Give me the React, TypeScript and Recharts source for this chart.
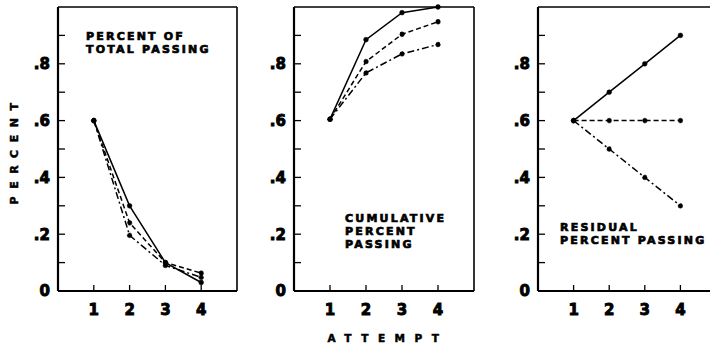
import React from 'react';
import { LineChart, Line, XAxis, YAxis, ReferenceLine } from 'recharts';

const attempts = [1, 2, 3, 4];
const xTicks = [1, 2, 3, 4];
const yTicks = [0, 0.1, 0.2, 0.3, 0.4, 0.5, 0.6, 0.7, 0.8, 0.9];

// Panel 1: percent of total passing
const totalSolid = [0.6, 0.3, 0.1, 0.03];
const totalDashed = [0.6, 0.24, 0.1, 0.063];
const totalDashDot = [0.6, 0.196, 0.09, 0.048];

// Panel 2: cumulative percent passing
const cumSolid = [0.605, 0.885, 0.98, 1.0];
const cumDashed = [0.605, 0.808, 0.904, 0.948];
const cumDashDot = [0.605, 0.768, 0.835, 0.868];

// Panel 3: residual percent passing
const resSolid = [0.6, 0.7, 0.8, 0.9];
const resDashed = [0.6, 0.6, 0.6, 0.6];
const resDashDot = [0.6, 0.5, 0.4, 0.3];

const build = (a: number[], b: number[], c: number[]) =>
  attempts.map((x, i) => ({ x, solid: a[i], dashed: b[i], dashdot: c[i] }));

const FONT = '"DejaVu Sans", "Liberation Sans", Arial, sans-serif';

const fmtY = (v: number) => {
  const k = Math.round(v * 10);
  if (k === 0) return '0';
  return k % 2 === 0 ? '.' + k : '';
};

const tickStyle = { fontSize: 15, fontWeight: 'bold', fill: '#000', stroke: '#000', strokeWidth: 0.9, fontFamily: FONT } as any;
const annStyle = { fontSize: 11, fontWeight: 'bold', fill: '#000', stroke: '#000', strokeWidth: 0.7, fontFamily: FONT, letterSpacing: 2.2 } as any;

const dot = { r: 2.4, fill: '#000', stroke: '#000', strokeWidth: 0.5 };

interface PanelProps {
  data: any[];
  left: number;
  plotWidth: number;
  children?: React.ReactNode;
  xLabel?: boolean;
  yLabel?: boolean;
}

function Panel({ data, left, plotWidth, children, xLabel, yLabel }: PanelProps) {
  const width = 58 + plotWidth + 4;
  return (
    <div style={{ position: 'absolute', left, top: 0 }}>
      <LineChart width={width} height={349} data={data} margin={{ top: 7, right: 4, bottom: 28, left: 0 }}>
        <XAxis
          dataKey="x"
          type="number"
          domain={[0, 5]}
          ticks={xTicks}
          height={30}
          tickSize={-6}
          tickMargin={19}
          axisLine={{ stroke: '#000', strokeWidth: 2.2 }}
          tickLine={{ stroke: '#000', strokeWidth: 1.3 }}
          tick={tickStyle}
          interval={0}
          label={
            xLabel
              ? {
                  value: 'ATTEMPT',
                  position: 'bottom',
                  content: () => (
                    <text x={147 + 5} y={342} textAnchor="middle" style={{ fontSize: 10.5, fontWeight: 'bold', fontFamily: FONT, letterSpacing: 9.5 }} fill="#000" stroke="#000" strokeWidth={0.5}>
                      ATTEMPT
                    </text>
                  ),
                }
              : undefined
          }
        />
        <YAxis
          type="number"
          domain={[0, 1]}
          ticks={yTicks}
          width={58}
          tickSize={-7}
          tickMargin={15}
          axisLine={{ stroke: '#000', strokeWidth: 2.2 }}
          tickLine={{ stroke: '#000', strokeWidth: 1.3 }}
          tick={tickStyle}
          tickFormatter={fmtY}
          interval={0}
          label={
            yLabel
              ? {
                  value: 'PERCENT',
                  position: 'insideLeft',
                  content: () => (
                    <text transform="translate(18,154) rotate(-90)" x={4} y={0} textAnchor="middle" style={{ fontSize: 11, fontWeight: 'bold', fontFamily: FONT, letterSpacing: 7.5 }} fill="#000" stroke="#000" strokeWidth={0.5}>
                      PERCENT
                    </text>
                  ),
                }
              : undefined
          }
        />
        <ReferenceLine y={1} stroke="#000" strokeWidth={1.6} />
        <ReferenceLine x={5} stroke="#000" strokeWidth={1.6} />
        <Line dataKey="solid" stroke="#000" strokeWidth={1.5} dot={dot} isAnimationActive={false} />
        <Line dataKey="dashed" stroke="#000" strokeWidth={1.5} strokeDasharray="5 3" dot={dot} isAnimationActive={false} />
        <Line dataKey="dashdot" stroke="#000" strokeWidth={1.5} strokeDasharray="7 3 2 3" dot={dot} isAnimationActive={false} />
        {children}
      </LineChart>
    </div>
  );
}

export default function App() {
  return (
    <div style={{ position: 'fixed', left: 0, top: 0, width: 710, height: 349, overflow: 'hidden', background: '#fff' }}>
      <Panel data={build(totalSolid, totalDashed, totalDashDot)} left={0} plotWidth={179} yLabel>
        <text x={86} y={40} style={annStyle}>PERCENT OF</text>
        <text x={86} y={53} style={annStyle}>TOTAL PASSING</text>
      </Panel>
      <Panel data={build(cumSolid, cumDashed, cumDashDot)} left={236} plotWidth={180} xLabel>
        <text x={109} y={222} style={annStyle}>CUMULATIVE</text>
        <text x={109} y={235} style={annStyle}>PERCENT</text>
        <text x={109} y={248} style={annStyle}>PASSING</text>
      </Panel>
      <Panel data={build(resSolid, resDashed, resDashDot)} left={480} plotWidth={178}>
        <text x={80} y={231} style={annStyle}>RESIDUAL</text>
        <text x={80} y={244} style={annStyle}>PERCENT PASSING</text>
      </Panel>
    </div>
  );
}
